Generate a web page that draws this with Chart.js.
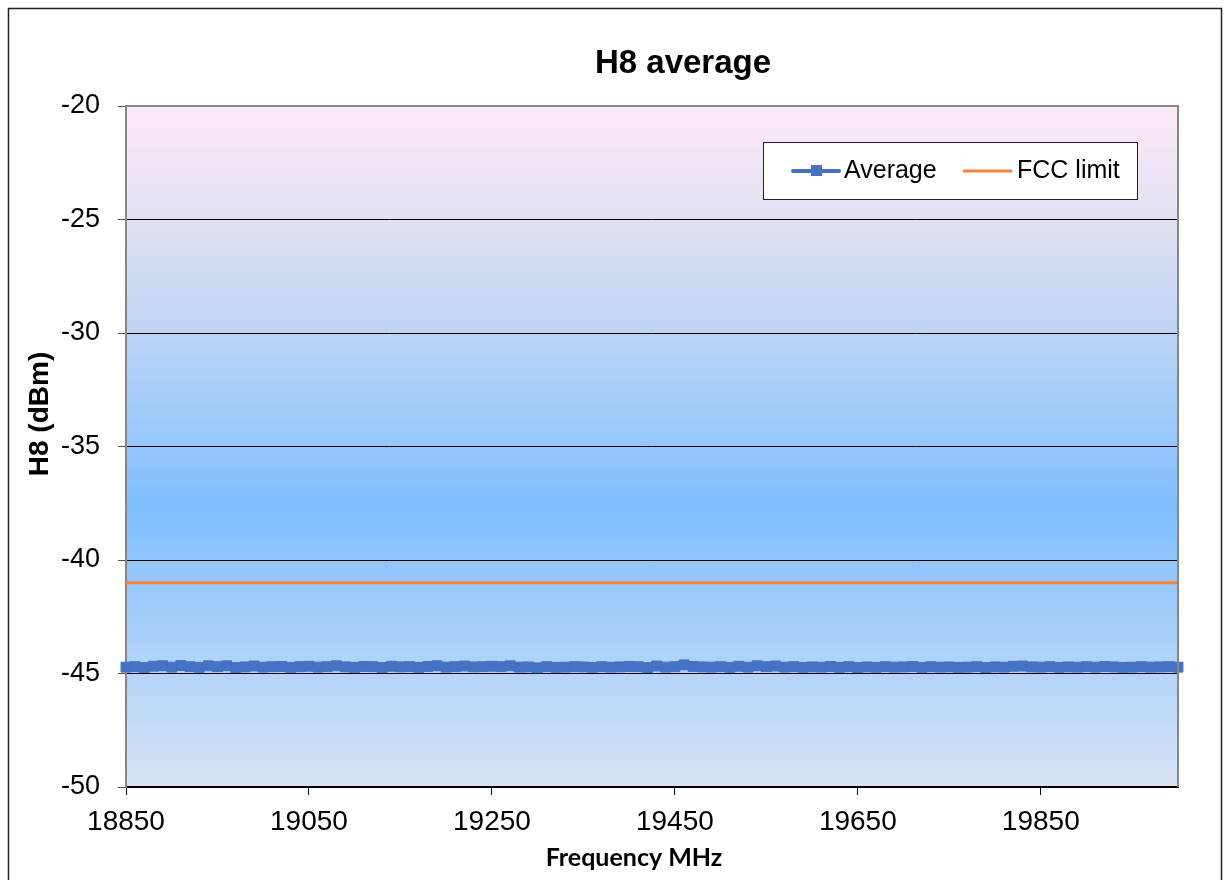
<!DOCTYPE html>
<html>
<head>
<meta charset="utf-8">
<script src="https://cdn.jsdelivr.net/npm/chart.js@4/dist/chart.umd.min.js"></script>
<style>
  body { margin: 0; background: #fff; }
  canvas { display: block; }
</style>
</head>
<body>
<canvas id="chart" width="1225" height="880"></canvas>
<script>
const freqStart = 18850
const freqStep = 10
const averageValues = [
  -44.72, -44.70, -44.74, -44.68, -44.66, -44.72, -44.65, -44.70, -44.73, -44.66,
  -44.70, -44.66, -44.74, -44.71, -44.67, -44.72, -44.70, -44.69, -44.73, -44.70,
  -44.68, -44.72, -44.70, -44.66, -44.71, -44.73, -44.69, -44.70, -44.74, -44.68,
  -44.71, -44.70, -44.73, -44.69, -44.66, -44.72, -44.70, -44.67, -44.71, -44.70,
  -44.68, -44.70, -44.66, -44.72, -44.71, -44.75, -44.70, -44.73, -44.72, -44.70,
  -44.71, -44.73, -44.70, -44.72, -44.71, -44.69, -44.70, -44.74, -44.67, -44.72,
  -44.70, -44.62, -44.69, -44.71, -44.72, -44.70, -44.73, -44.68, -44.72, -44.66,
  -44.70, -44.67, -44.72, -44.70, -44.73, -44.71, -44.72, -44.69, -44.73, -44.70,
  -44.74, -44.71, -44.73, -44.70, -44.72, -44.71, -44.69, -44.73, -44.70, -44.72,
  -44.71, -44.73, -44.72, -44.70, -44.74, -44.71, -44.72, -44.68, -44.67, -44.71,
  -44.72, -44.70, -44.73, -44.71, -44.72, -44.70, -44.72, -44.69, -44.71, -44.73,
  -44.72, -44.70, -44.72, -44.71, -44.70, -44.72
]
const fccFreqs = [18850, 20000]
const fccValues = [-41, -41]
const xTicks = [18850, 19050, 19250, 19450, 19650, 19850]
const yTicks = [-50, -45, -40, -35, -30, -25, -20]

const averagePoints = averageValues.map((v, i) => ({ x: freqStart + i * freqStep, y: v }))
const fccPoints = fccFreqs.map((f, i) => ({ x: f, y: fccValues[i] }))

const BLUE = "#4472c4"
const ORANGE = "#f5833a"

// background gradient + frame + title + legend
const decor = {
  id: "decor",
  beforeDraw(chart) {
    const { ctx, chartArea: a } = chart
    const g = ctx.createLinearGradient(0, a.top, 0, a.bottom)
    g.addColorStop(0, "#fce9f8")
    g.addColorStop(0.17, "#e2e1f0")
    g.addColorStop(0.59, "#80bfff")
    g.addColorStop(1, "#d8e3f4")
    ctx.save()
    ctx.fillStyle = g
    ctx.fillRect(a.left, a.top, a.right - a.left, a.bottom - a.top)
    ctx.restore()
  },
  afterDraw(chart) {
    const { ctx, chartArea: a } = chart
    ctx.save()
    // plot frame (gray top/right)
    ctx.strokeStyle = "#868686"
    ctx.lineWidth = 2
    ctx.beginPath()
    ctx.moveTo(a.left, a.top)
    ctx.lineTo(a.right, a.top)
    ctx.lineTo(a.right, a.bottom)
    ctx.stroke()
    // outer border
    ctx.strokeStyle = "#222"
    ctx.lineWidth = 1.5
    ctx.strokeRect(8.5, 8.5, 1213, 900)

    // title
    ctx.fillStyle = "#000"
    ctx.font = "bold 33px 'Liberation Sans', Arial, sans-serif"
    ctx.textAlign = "center"
    ctx.textBaseline = "middle"
    ctx.fillText("H8 average", 683, 64)

    // axis titles
    ctx.font = "bold 25px Lato, 'Open Sans', sans-serif"
    ctx.fillText("Frequency MHz", 634, 858)
    ctx.save()
    ctx.translate(40, 414)
    ctx.rotate(-Math.PI / 2)
    ctx.font = "bold 28px 'Liberation Sans', Arial, sans-serif"
    ctx.fillText("H8 (dBm)", 0, 0)
    ctx.restore()

    // legend
    ctx.fillStyle = "#fff"
    ctx.fillRect(763, 142, 374, 57)
    ctx.strokeStyle = "#222"
    ctx.lineWidth = 1
    ctx.strokeRect(763.5, 142.5, 374, 57)
    ctx.lineCap = "round"
    ctx.strokeStyle = BLUE
    ctx.lineWidth = 4
    ctx.beginPath()
    ctx.moveTo(793, 171)
    ctx.lineTo(839, 171)
    ctx.stroke()
    ctx.fillStyle = BLUE
    ctx.fillRect(811, 165, 11, 11)
    ctx.strokeStyle = ORANGE
    ctx.lineWidth = 3
    ctx.beginPath()
    ctx.moveTo(964, 171)
    ctx.lineTo(1011, 171)
    ctx.stroke()
    ctx.fillStyle = "#000"
    ctx.font = "25px 'Liberation Sans', Arial, sans-serif"
    ctx.textAlign = "left"
    ctx.fillText("Average", 844, 171)
    ctx.fillText("FCC limit", 1017, 171)
    ctx.restore()
  }
}

new Chart(document.getElementById("chart"), {
  type: "scatter",
  data: {
    datasets: [
      {
        label: "Average",
        data: averagePoints,
        showLine: true,
        borderColor: BLUE,
        backgroundColor: BLUE,
        borderWidth: 4,
        pointStyle: "rect",
        pointRadius: 7,
        pointBorderWidth: 1,
        pointBorderColor: BLUE,
        clip: false,
        order: 1
      },
      {
        label: "FCC limit",
        data: fccPoints,
        showLine: true,
        borderColor: ORANGE,
        borderWidth: 3,
        pointRadius: 0,
        clip: false,
        order: 2
      }
    ]
  },
  options: {
    responsive: false,
    animation: false,
    layout: { padding: { left: 0, right: 47, top: 106, bottom: 0 } },
    plugins: {
      legend: { display: false },
      title: { display: false },
      tooltip: { enabled: false }
    },
    scales: {
      x: {
        type: "linear",
        min: 18850,
        max: 20000,
        afterBuildTicks: axis => { axis.ticks = xTicks.map(v => ({ value: v })) },
        afterFit: scale => { scale.height = 93 },
        border: { color: "#000", width: 2 },
        grid: { drawOnChartArea: false, drawTicks: true, tickLength: 8, color: "#000" },
        ticks: {
          color: "#000",
          padding: 10,
          maxRotation: 0,
          callback: v => String(v),
          font: { family: "'Liberation Sans', Arial, sans-serif", size: 28 }
        }
      },
      y: {
        min: -50,
        max: -20,
        afterBuildTicks: axis => { axis.ticks = yTicks.map(v => ({ value: v })) },
        afterFit: scale => { scale.width = 126 },
        border: { color: "#868686", width: 2 },
        grid: { color: "#000", lineWidth: 1, drawTicks: true, tickLength: 8, tickColor: "#555" },
        ticks: {
          color: "#000",
          padding: 18,
          callback: v => String(v),
          font: { family: "'Liberation Sans', Arial, sans-serif", size: 27 }
        }
      }
    }
  },
  plugins: [decor]
})
</script>
</body>
</html>
